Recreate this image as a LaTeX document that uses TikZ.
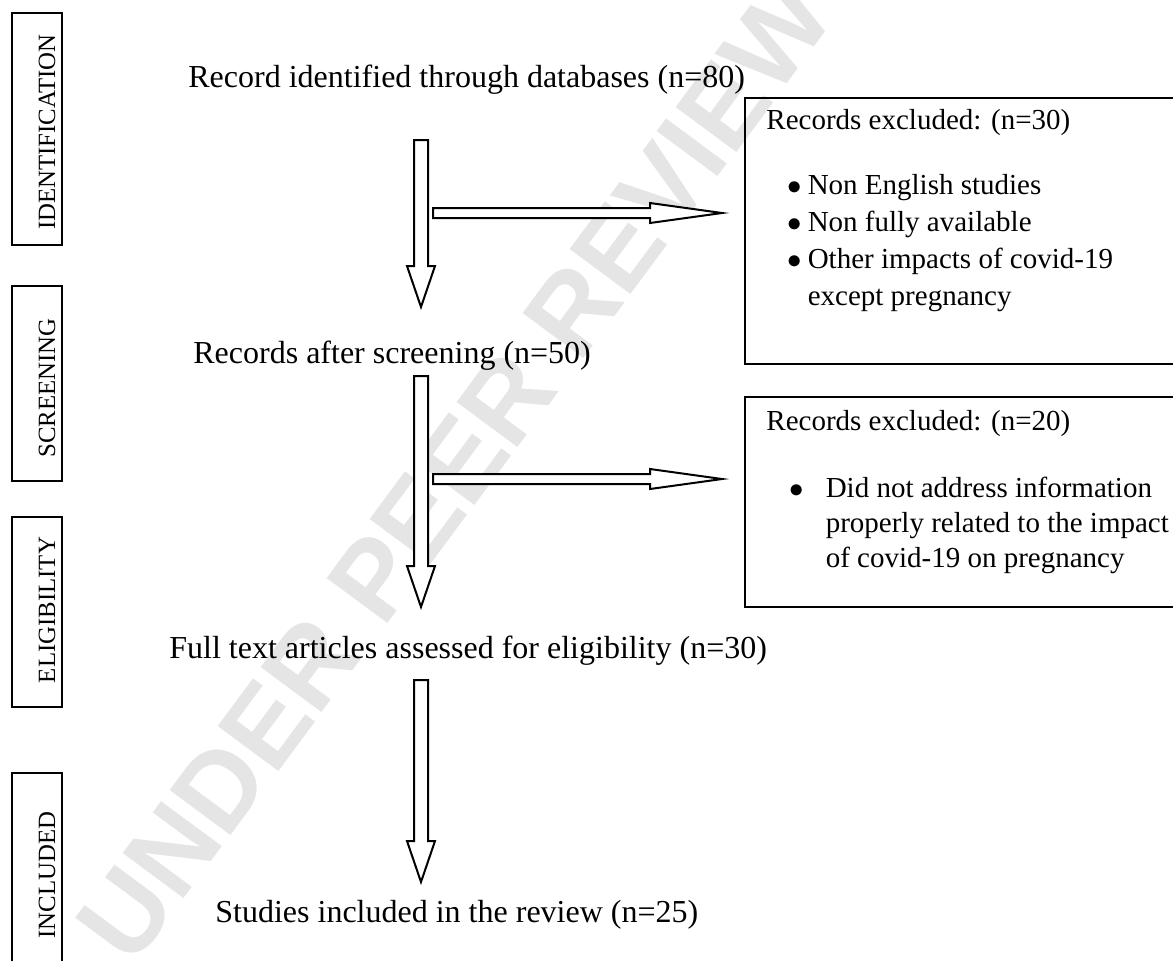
\documentclass[tikz,border=0pt]{standalone}
\usepackage{fontspec}
\setmainfont{Liberation Serif}
\newfontfamily\markfont{Liberation Sans}
\usetikzlibrary{calc}

% hollow block arrows between two named coordinates
\newcommand{\flowdown}[2]{%
  \draw[block] let \p1=(#1), \p2=(#2) in
    (\x1-3.5pt,\y1) -- (\x1-3.5pt,\y2+20.5pt) -- (\x1-7pt,\y2+20.5pt) -- (\x2,\y2)
    -- (\x1+7pt,\y2+20.5pt) -- (\x1+3.5pt,\y2+20.5pt) -- (\x1+3.5pt,\y1) -- cycle;}
\newcommand{\flowright}[2]{%
  \draw[block] let \p1=(#1), \p2=(#2) in
    (\x1,\y1+2.5pt) -- (\x2-36pt,\y1+2.5pt) -- (\x2-36pt,\y1+5pt) -- (\x2,\y1)
    -- (\x2-36pt,\y1-5pt) -- (\x2-36pt,\y1-2.5pt) -- (\x1,\y1-2.5pt) -- cycle;}

\begin{document}
\begin{tikzpicture}[
    x=0.5pt, y=-0.5pt,
    block/.style={draw, line width=1pt, fill=white, line join=miter},
    frame/.style={draw, line width=1pt},
    stage/.style={rotate=90, anchor=base, inner sep=0pt, font=\fontsize{12.4}{14}\selectfont},
    flowtext/.style={anchor=base west, inner sep=0pt, font=\fontsize{16}{19}\selectfont},
    excl/.style={anchor=base west, inner sep=0pt, font=\fontsize{14.5}{18.5}\selectfont}
]
\useasboundingbox (0,0) rectangle (1173,960);

% Watermark
\node[rotate=53.5, text=gray!20, font=\markfont\bfseries\fontsize{55}{60}\selectfont]
    (mark) at (455,470) {UNDER PEER REVIEW};

% Stage boxes
\draw[frame] (12,13) rectangle (62,245);
\draw[frame] (12,286) rectangle (62,481);
\draw[frame] (12,517) rectangle (62,707);
\draw[frame] (12,773) rectangle (62,975);
\node[stage] (ident) at (55,132) {IDENTIFICATION};
\node[stage] (screen) at (55,388) {SCREENING};
\node[stage] (elig) at (55,610) {ELIGIBILITY};
\node[stage] (incl) at (55,875) {INCLUDED};

% Main steps
\node[flowtext] (rec) at (188,87) {Record identified through databases (n=80)};
\node[flowtext] (after) at (193,363) {Records after screening (n=50)};
\node[flowtext] (full) at (169,658) {Full text articles assessed for eligibility (n=30)};
\node[flowtext] (stud) at (215,922) {Studies included in the review (n=25)};

% Arrow ends
\coordinate (a1) at (421,140);
\coordinate (b1) at (421,307);
\coordinate (a2) at (421,376);
\coordinate (b2) at (421,607);
\coordinate (a3) at (421,680);
\coordinate (b3) at (421,882);
\coordinate (c1) at (433,213);
\coordinate (d1) at (722,213);
\coordinate (c2) at (433,479);
\coordinate (d2) at (722,479);

\flowdown{a1}{b1}
\flowdown{a2}{b2}
\flowdown{a3}{b3}
\flowright{c1}{d1}
\flowright{c2}{d2}

% Exclusion boxes
\draw[frame] (745,98) rectangle (1190,364);
\draw[frame] (745,397) rectangle (1190,607);

\node[excl] (ex1) at (766,129) {Records excluded: (n=30)};
\node[excl] (list1) at (787,194) {\begin{tabular}[t]{@{}l@{\hspace{3pt}}l@{}}
  $\bullet$ & Non English studies\\
  $\bullet$ & Non fully available\\
  $\bullet$ & Other impacts of covid-19\\
   & except pregnancy
\end{tabular}};

\node[excl] (ex2) at (766,430) {Records excluded: (n=20)};
\node[excl, font=\fontsize{14.5}{17.5}\selectfont] (list2) at (789,497) {\begin{tabular}[t]{@{}l@{\hspace{11pt}}l@{}}
  $\bullet$ & Did not address information\\
   & properly related to the impact\\
   & of covid-19 on pregnancy
\end{tabular}};

\end{tikzpicture}
\end{document}
